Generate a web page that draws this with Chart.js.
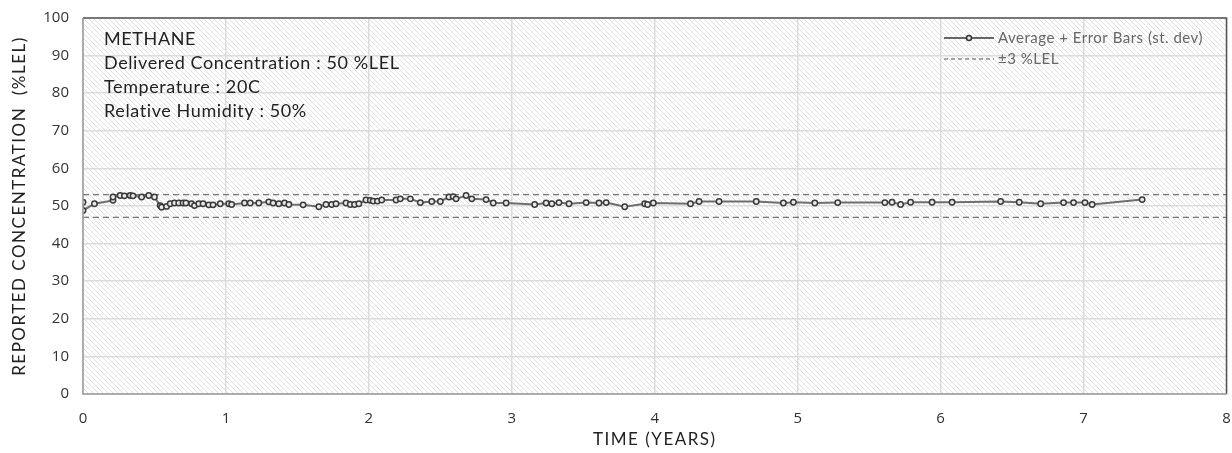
<!DOCTYPE html>
<html><head><meta charset="utf-8">
<script src="https://cdn.jsdelivr.net/npm/chart.js@4/dist/chart.umd.min.js"></script>
<style>html,body{margin:0;padding:0;background:#fff}#wrap{width:1232px;height:453px}</style>
</head><body><div id="wrap"><canvas id="c" width="1232" height="453"></canvas></div>
<script>
const times = [0,0,0.08,0.21,0.21,0.26,0.29,0.33,0.35,0.41,0.46,0.50,0.54,0.55,0.585,0.61,0.64,0.67,0.70,0.72,0.76,0.78,0.81,0.84,0.88,0.91,0.96,1.02,1.04,1.13,1.17,1.23,1.30,1.33,1.37,1.41,1.44,1.54,1.65,1.70,1.74,1.77,1.84,1.87,1.90,1.93,1.98,2.01,2.03,2.06,2.09,2.19,2.22,2.29,2.36,2.44,2.50,2.56,2.59,2.61,2.68,2.72,2.82,2.87,2.96,3.16,3.24,3.28,3.33,3.40,3.52,3.61,3.66,3.79,3.93,3.95,3.99,4.25,4.31,4.45,4.71,4.90,4.97,5.12,5.28,5.61,5.66,5.72,5.79,5.94,6.08,6.42,6.55,6.70,6.86,6.93,7.01,7.06,7.41];
const averages = [51.0,48.8,50.6,51.5,52.4,52.8,52.7,52.8,52.7,52.4,52.8,52.4,50.1,49.7,49.9,50.6,50.8,50.8,50.8,50.8,50.6,50.1,50.6,50.6,50.3,50.3,50.6,50.6,50.4,50.8,50.8,50.8,51.1,50.8,50.6,50.8,50.4,50.3,49.8,50.4,50.4,50.6,50.8,50.4,50.4,50.6,51.6,51.5,51.3,51.3,51.6,51.6,51.9,51.9,50.9,51.2,51.2,52.4,52.5,51.9,52.8,51.9,51.7,50.8,50.8,50.4,50.8,50.6,50.9,50.6,50.9,50.8,50.9,49.8,50.6,50.4,50.8,50.6,51.2,51.2,51.2,50.8,51.0,50.8,50.9,50.9,51.0,50.4,51.0,51.0,51.0,51.2,51.0,50.6,50.9,50.9,50.9,50.4,51.7];
const limitRange = [0, 8];
const upperLimit = [53, 53];
const lowerLimit = [47, 47];
const infoLines = ["METHANE","Delivered Concentration : 50 %LEL","Temperature : 20C","Relative Humidity : 50%"];
const legendLabels = ["Average + Error Bars (st. dev)","\u00B13 %LEL"];
const xTitle = "TIME (YEARS)";
const yTitle = "REPORTED CONCENTRATION  (%LEL)";

const mainData = times.map((t,i)=>({x:t,y:averages[i]}));
const upData = limitRange.map((t,i)=>({x:t,y:upperLimit[i]}));
const loData = limitRange.map((t,i)=>({x:t,y:lowerLimit[i]}));

function makePattern(ctx){
  const s=5, pc=document.createElement('canvas'); pc.width=s; pc.height=s;
  const p=pc.getContext('2d');
  p.strokeStyle='#e0e0e0'; p.lineWidth=1;
  p.beginPath(); p.moveTo(-1,-1); p.lineTo(s+1,s+1); p.stroke();
  p.beginPath(); p.moveTo(-1,s-1); p.lineTo(1,s+1); p.stroke();
  p.beginPath(); p.moveTo(s-1,-1); p.lineTo(s+1,1); p.stroke();
  return ctx.createPattern(pc,'repeat');
}

const bgPlugin = {
  id:'bg',
  beforeDraw(chart){
    const {ctx, chartArea:a} = chart;
    ctx.save();
    ctx.fillStyle = makePattern(ctx);
    ctx.fillRect(a.left,a.top,a.right-a.left,a.bottom-a.top);
    ctx.restore();
  },
  afterDatasetsDraw(chart){
    const {ctx, chartArea:a} = chart;
    ctx.save();
    ctx.lineWidth=1.5;
    ctx.strokeStyle='#555';
    ctx.beginPath(); ctx.moveTo(a.left,a.top); ctx.lineTo(a.right,a.top); ctx.lineTo(a.right,a.bottom); ctx.stroke();
    ctx.strokeStyle='#9a9a9a';
    ctx.beginPath(); ctx.moveTo(a.left,a.top); ctx.lineTo(a.left,a.bottom); ctx.lineTo(a.right,a.bottom); ctx.stroke();
    // info text
    ctx.fillStyle='#222';
    ctx.font='18px Lato';
    ctx.letterSpacing='0.6px';
    ctx.textBaseline='alphabetic';
    ctx.textAlign='left';
    const ys=[45,69,93,117];
    infoLines.forEach((l,i)=>ctx.fillText(l, a.left+21, ys[i]));
    // legend
    const lx=944, ly1=38, ly2=59;
    ctx.letterSpacing='0px';
    ctx.strokeStyle='#666'; ctx.lineWidth=2;
    ctx.beginPath(); ctx.moveTo(lx,ly1); ctx.lineTo(lx+50,ly1); ctx.stroke();
    ctx.beginPath(); ctx.arc(lx+25,ly1,2.5,0,Math.PI*2); ctx.fillStyle='#e8e8e8'; ctx.fill();
    ctx.strokeStyle='#333'; ctx.lineWidth=1.5; ctx.stroke();
    ctx.strokeStyle='#555'; ctx.lineWidth=1; ctx.setLineDash([4,3]);
    ctx.beginPath(); ctx.moveTo(lx,ly2); ctx.lineTo(lx+50,ly2); ctx.stroke();
    ctx.setLineDash([]);
    ctx.fillStyle='#666'; ctx.font='15px Lato'; ctx.letterSpacing='0.5px'; ctx.textBaseline='middle';
    ctx.fillText(legendLabels[0], lx+54, ly1);
    ctx.fillText(legendLabels[1], lx+54, ly2);
    // axis titles
    ctx.fillStyle='#222'; ctx.font='17px Lato'; ctx.letterSpacing='1.5px';
    ctx.textAlign='center'; ctx.textBaseline='middle';
    ctx.fillText(xTitle, (a.left+a.right)/2, 440);
    ctx.translate(20, (a.top+a.bottom)/2);
    ctx.rotate(-Math.PI/2);
    ctx.fillText(yTitle, 0, 0);
    ctx.restore();
  }
};

new Chart(document.getElementById('c'), {
  type:'line',
  data:{datasets:[
    {data:mainData, borderColor:'#6e6e6e', borderWidth:2, pointRadius:2.7, pointBorderWidth:1.5, pointBorderColor:'#3a3a3a', pointBackgroundColor:'#e8e8e8', tension:0, order:0},
    {data:upData, borderColor:'#555', borderWidth:1, borderDash:[6,4], pointRadius:0, order:1},
    {data:loData, borderColor:'#555', borderWidth:1, borderDash:[6,4], pointRadius:0, order:1}
  ]},
  options:{
    responsive:false, animation:false,
    layout:{padding:{top:18,right:5,left:0,bottom:0}},
    plugins:{legend:{display:false}, tooltip:{enabled:false}},
    scales:{
      x:{type:'linear', min:0, max:8,
        afterFit(s){s.height=59; s.paddingLeft=0; s.paddingRight=0;},
        grid:{color:'#dcdcdc', lineWidth:1.5, drawTicks:false},
        border:{display:false},
        ticks:{stepSize:1, padding:16, color:'#333', font:{family:'Open Sans', size:15}},
        title:{display:false}
      },
      y:{min:0, max:100,
        afterFit(s){s.width=83; s.paddingTop=0; s.paddingBottom=0;},
        grid:{color:'#dcdcdc', lineWidth:1.5, drawTicks:false},
        border:{display:false},
        ticks:{stepSize:10, padding:14, color:'#333', font:{family:'Open Sans', size:15}},
        title:{display:false}
      }
    }
  },
  plugins:[bgPlugin]
});
</script></body></html>
